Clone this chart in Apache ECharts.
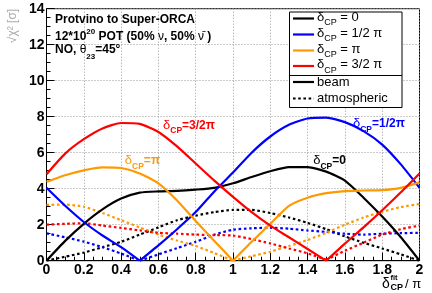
<!DOCTYPE html>
<html>
<head>
<meta charset="utf-8">
<script src="https://cdn.jsdelivr.net/npm/echarts@6/dist/echarts.min.js"></script>
<style>
html,body{margin:0;padding:0;background:#fff;}
#c{width:432px;height:293px;}
</style>
</head>
<body>
<div id="c"></div>
<script>
// ---- data ----
const xFit = [0,0.1,0.2,0.3,0.4,0.5,0.6,0.7,0.8,0.9,1.0,1.1,1.2,1.3,1.4,1.5,1.6,1.7,1.8,1.9,2.0];
const xTicks = [0,0.2,0.4,0.6,0.8,1,1.2,1.4,1.6,1.8,2];
const yTicks = [0,2,4,6,8,10,12,14];

const beam0   = [0,1.1,2.05,2.85,3.45,3.78,3.85,3.88,3.95,4.05,4.3,4.65,4.97,5.2,5.2,4.95,4.45,3.5,2.45,1.3,0];
const beam90  = [4.05,3.05,2.15,1.4,0.75,0,0.85,1.75,2.7,3.85,4.9,6.0,6.9,7.55,7.9,7.95,7.7,7.2,6.45,5.35,4.05];
const beam180 = [4.38,4.75,5.02,5.18,5.15,4.85,4.3,3.35,2.2,1.1,0,1.05,2.05,3.05,3.5,3.75,3.87,3.9,3.92,4.05,4.35];
const beam270 = [4.8,5.95,6.75,7.35,7.65,7.6,7.15,6.35,5.4,4.45,3.55,2.7,1.95,1.3,0.65,0,0.95,1.85,2.8,3.8,4.85];

const atm0   = [0,0.22,0.45,0.75,1.05,1.45,1.85,2.25,2.5,2.7,2.82,2.82,2.65,2.4,2.1,1.75,1.35,1.0,0.68,0.35,0];
const atm90  = [1.52,1.3,1.06,0.75,0.4,0,0.35,0.7,1.05,1.45,1.72,1.8,1.83,1.78,1.68,1.6,1.5,1.45,1.5,1.53,1.55];
const atm180 = [3.1,3.12,3.0,2.65,2.25,1.85,1.45,1.12,0.82,0.42,0,0.25,0.5,0.82,1.15,1.55,2.0,2.4,2.72,2.98,3.15];
const atm270 = [2.0,2.05,2.08,1.95,1.82,1.68,1.55,1.5,1.45,1.42,1.4,1.2,0.96,0.68,0.41,0.05,0.55,1.0,1.45,1.75,1.95];

const legendLabels = ['= 0', '= 1/2 π', '= π', '= 3/2 π'];
const curveLabels = ['=0', '=1/2π', '=π', '=3/2π'];
// annotation anchors in data coordinates (x, y)
const curveLabelAt = [[1.43,5.48],[1.643,7.55],[0.42,5.48],[0.625,7.45]];

// ---- styles ----
const COLORS = ['#000000','#0000ff','#ff9900','#ff0000'];
const FONT = 'Liberation Sans, Arial, Helvetica, sans-serif';

function splitAtKinks(vals){
  const kinks = [];
  for (let i=1;i<vals.length-1;i++){
    if (vals[i] <= vals[i-1] && vals[i] <= vals[i+1] && vals[i] < 0.15) kinks.push(i);
  }
  const bounds = [0, ...kinks, vals.length-1];
  const parts = [];
  for (let k=0;k<bounds.length-1;k++){
    const seg = [];
    for (let i=bounds[k]; i<=bounds[k+1]; i++) seg.push([xFit[i], vals[i]]);
    parts.push(seg);
  }
  return parts;
}
function makeSeries(vals, color, dotted, z){
  return splitAtKinks(vals).map(seg => ({
    type:'line', data: seg, smooth: 0.2, symbol:'none', showSymbol:false,
    silent:true, animation:false, z: z, clip:true,
    lineStyle:{color: color, width: 2.2, type: dotted ? [2.6,2.6] : 'solid', cap:'butt'}
  }));
}

const series = [];
[atm0, atm90, atm180, atm270].forEach((v,i)=> series.push(...makeSeries(v, COLORS[i], true, 2)));
[beam0, beam90, beam180, beam270].forEach((v,i)=> series.push(...makeSeries(v, COLORS[i], false, 3)));

const chart = echarts.init(document.getElementById('c'), null, {renderer:'canvas'});
chart.setOption({
  backgroundColor:'#fff',
  animation:false,
  grid:{left:46.5, right:12.5, top:8.7, bottom:32.3, show:true, borderColor:'#000', borderWidth:1, containLabel:false},
  xAxis:{
    type:'value', min:xTicks[0], max:xTicks[xTicks.length-1], interval:0.2,
    axisLine:{show:true, lineStyle:{color:'#000', width:1}},
    axisTick:{show:true, inside:true, length:8, lineStyle:{color:'#000'}},
    minorTick:{show:true, splitNumber:4, length:4, lineStyle:{color:'#000'}},
    splitLine:{show:true, lineStyle:{color:'#999', type:[1,2], width:1}},
    axisLabel:{color:'#000', fontWeight:'bold', fontSize:14, fontFamily:FONT, margin:2,
      formatter: v => String(Math.round(v*10)/10)}
  },
  yAxis:{
    type:'value', min:yTicks[0], max:yTicks[yTicks.length-1], interval:2,
    axisLine:{show:true, lineStyle:{color:'#000', width:1}},
    axisTick:{show:true, inside:true, length:8, lineStyle:{color:'#000'}},
    minorTick:{show:true, splitNumber:4, length:4, lineStyle:{color:'#000'}},
    splitLine:{show:true, lineStyle:{color:'#999', type:[1,2], width:1}},
    axisLabel:{color:'#000', fontWeight:'bold', fontSize:14, fontFamily:FONT, margin:2}
  },
  series: series
});

// ---- annotations / legend (graphics) ----
const richBase = (main, sub, extra) => Object.assign({
  m:{fontSize:main, lineHeight:16, verticalAlign:'top', fontFamily:FONT},
  s:{fontSize:sub, lineHeight:8, padding:[8,0,0,0], verticalAlign:'top', fontFamily:FONT, fontWeight:'bold'}
}, extra||{});

const g = [];
// curve labels
curveLabelAt.forEach((p,i)=>{
  const px = chart.convertToPixel({xAxisIndex:0, yAxisIndex:0}, p);
  g.push({type:'text', x:px[0], y:px[1], silent:true, z:10,
    style:{text:'{m|δ}{s|CP}{b|'+curveLabels[i]+'}', align:'left', verticalAlign:'middle', fill:COLORS[i],
      rich: richBase(13, 8.5, {b:{fontSize:12, lineHeight:16, verticalAlign:'top', fontFamily:FONT, fontWeight:'bold', padding:[1,0,0,0]}})}});
});

// top-left text block
g.push({type:'text', x:55, y:19.5, silent:true, z:10,
  style:{text:'Protvino to Super-ORCA', font:'bold 12px '+FONT, fill:'#000', align:'left', verticalAlign:'middle'}});
g.push({type:'text', x:55, y:35.5, silent:true, z:10,
  style:{text:'{m|12*10}{u|20}{m| POT (50% }{n|ν}{m|, 50% }{n|ν̄}{m| )}', align:'left', verticalAlign:'middle', fill:'#000',
    rich:{
      m:{fontSize:12, fontWeight:'bold', lineHeight:16, padding:[3,0,0,0], verticalAlign:'top', fontFamily:FONT},
      n:{fontSize:12, fontWeight:'normal', lineHeight:16, padding:[3,0,0,0], verticalAlign:'top', fontFamily:FONT},
      u:{fontSize:8, fontWeight:'bold', lineHeight:8, padding:[0,0,0,0], verticalAlign:'top', fontFamily:FONT}
    }}});
g.push({type:'text', x:55, y:52, silent:true, z:10,
  style:{text:'{m|NO, }{n|θ}{s|23}{m|=45°}', align:'left', verticalAlign:'middle', fill:'#000',
    rich:{
      m:{fontSize:12, fontWeight:'bold', lineHeight:16, verticalAlign:'top', fontFamily:FONT},
      n:{fontSize:12, fontWeight:'normal', lineHeight:16, verticalAlign:'top', fontFamily:FONT},
      s:{fontSize:8, fontWeight:'bold', lineHeight:8, padding:[9,0,0,0], verticalAlign:'top', fontFamily:FONT}
    }}});

// legend box
const LX = 289, LY = 11.5, LW = 112.5, LH = 95.5;
g.push({type:'rect', shape:{x:LX+0.5, y:LY+0.5, width:LW, height:LH}, silent:true, z:20,
  style:{fill:'#fff', stroke:'#000', lineWidth:1}});
g.push({type:'line', shape:{x1:LX+0.5, y1:75.5, x2:LX+LW+0.5, y2:75.5}, silent:true, z:21, style:{stroke:'#000', lineWidth:1}});
const rowY = [18.5, 34.5, 50.5, 66];
legendLabels.forEach((t,i)=>{
  g.push({type:'line', shape:{x1:293, y1:rowY[i], x2:314, y2:rowY[i]}, silent:true, z:21, style:{stroke:COLORS[i], lineWidth:2.2}});
  g.push({type:'text', x:317, y:rowY[i], silent:true, z:21,
    style:{text:'{m|δ}{s|CP}{m| '+t+'}', align:'left', verticalAlign:'middle', fill:'#000',
      rich:{
        m:{fontSize:13, lineHeight:16, verticalAlign:'top', fontFamily:FONT},
        s:{fontSize:9, lineHeight:9, padding:[8,0,0,0], verticalAlign:'top', fontFamily:FONT}
      }}});
});
g.push({type:'line', shape:{x1:293, y1:82, x2:314, y2:82}, silent:true, z:21, style:{stroke:'#000', lineWidth:2.2}});
g.push({type:'text', x:317, y:82, silent:true, z:21, style:{text:'beam', font:'13px '+FONT, fill:'#000', align:'left', verticalAlign:'middle'}});
g.push({type:'line', shape:{x1:293, y1:98.5, x2:314, y2:98.5}, silent:true, z:21, style:{stroke:'#000', lineWidth:2.2, lineDash:[2.6,2.6]}});
g.push({type:'text', x:317, y:98.5, silent:true, z:21, style:{text:'atmospheric', font:'13px '+FONT, fill:'#000', align:'left', verticalAlign:'middle'}});

// axis titles
g.push({type:'text', x:13, y:26, rotation:Math.PI/2, silent:true, z:10,
  style:{text:'√χ² [σ]', font:'12px '+FONT, fill:'#aaa', align:'center', verticalAlign:'middle'}});
g.push({type:'text', x:382, y:284, silent:true, z:10, style:{text:'δ', font:'14px '+FONT, fill:'#000', align:'left', verticalAlign:'middle'}});
g.push({type:'text', x:390.5, y:277.5, silent:true, z:10, style:{text:'fit', font:'bold 7.5px '+FONT, fill:'#000', align:'left', verticalAlign:'middle'}});
g.push({type:'text', x:390.5, y:288, silent:true, z:10, style:{text:'CP', font:'bold 9px '+FONT, fill:'#000', align:'left', verticalAlign:'middle'}});
g.push({type:'text', x:405, y:284, silent:true, z:10, style:{text:'/ π', font:'13px '+FONT, fill:'#000', align:'left', verticalAlign:'middle'}});

chart.setOption({graphic: g});
</script>
</body>
</html>
